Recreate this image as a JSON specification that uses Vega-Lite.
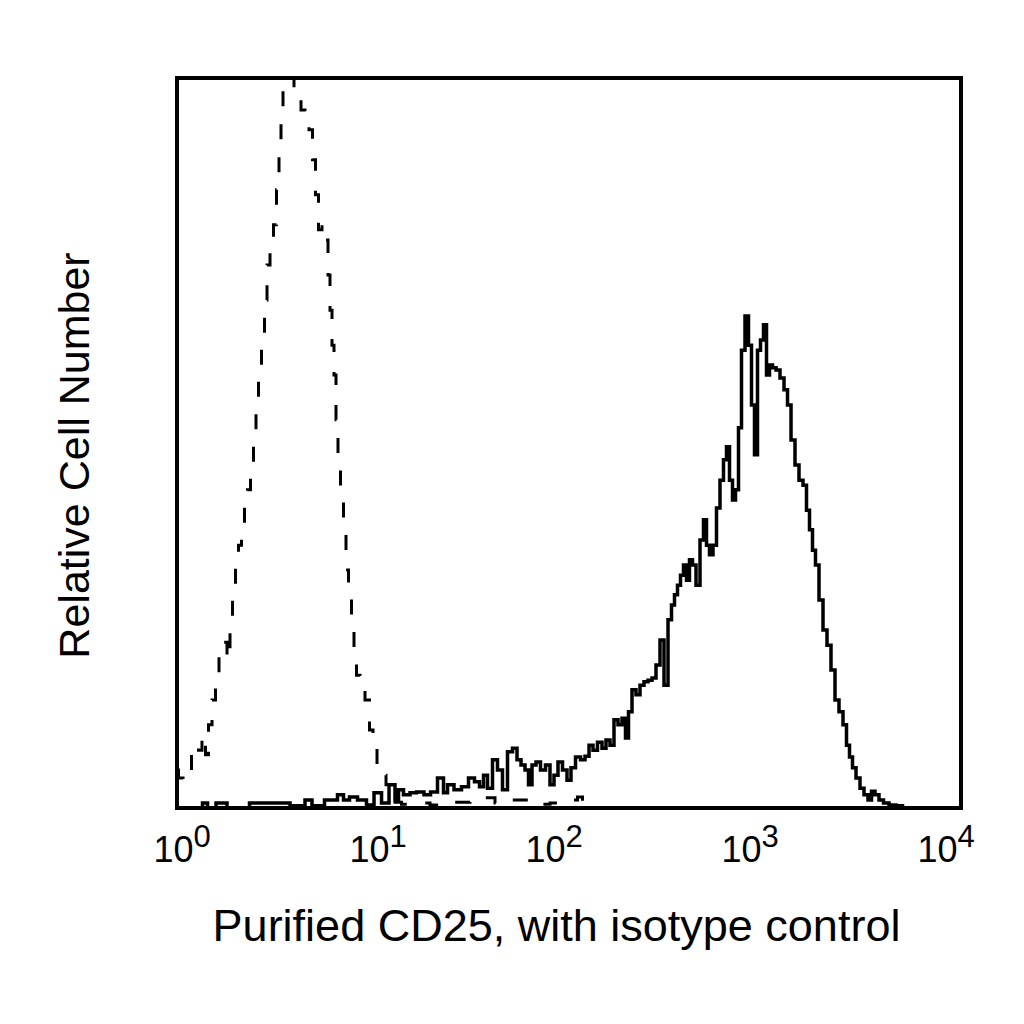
{
  "$schema": "https://vega.github.io/schema/vega-lite/v6.json",
  "width": 784,
  "height": 730,
  "autosize": "none",
  "padding": {"left": 177, "top": 78, "right": 63, "bottom": 216},
  "background": "white",
  "config": {
    "view": {"stroke": "black", "strokeWidth": 4},
    "font": "Liberation Sans"
  },
  "datasets": {
    "isotype": [
      {"intensity": 1, "count": 5.2}, {"intensity": 1.036, "count": 4.1}, {"intensity": 1.112, "count": 3.8},
      {"intensity": 1.165, "count": 4.1}, {"intensity": 1.207, "count": 7.3}, {"intensity": 1.265, "count": 8.6},
      {"intensity": 1.31, "count": 7.9}, {"intensity": 1.373, "count": 10.0}, {"intensity": 1.423, "count": 7.3},
      {"intensity": 1.474, "count": 11.4}, {"intensity": 1.544, "count": 14.8}, {"intensity": 1.6, "count": 18.6},
      {"intensity": 1.677, "count": 21.9}, {"intensity": 1.758, "count": 22.7}, {"intensity": 1.842, "count": 20.3},
      {"intensity": 1.886, "count": 25.8}, {"intensity": 1.954, "count": 30.5}, {"intensity": 2.024, "count": 34.0},
      {"intensity": 2.096, "count": 36.0}, {"intensity": 2.171, "count": 38.8}, {"intensity": 2.249, "count": 41.5},
      {"intensity": 2.33, "count": 43.6}, {"intensity": 2.414, "count": 46.3}, {"intensity": 2.5, "count": 50.4},
      {"intensity": 2.56, "count": 55.9}, {"intensity": 2.651, "count": 60.7}, {"intensity": 2.747, "count": 64.8},
      {"intensity": 2.845, "count": 69.6}, {"intensity": 2.913, "count": 74.4}, {"intensity": 3.053, "count": 77.8},
      {"intensity": 3.162, "count": 79.9}, {"intensity": 3.276, "count": 84.7}, {"intensity": 3.354, "count": 90.1},
      {"intensity": 3.433, "count": 94.2}, {"intensity": 3.515, "count": 98.4}, {"intensity": 3.684, "count": 102.5},
      {"intensity": 3.861, "count": 102.5}, {"intensity": 4.047, "count": 98.4}, {"intensity": 4.192, "count": 97.0},
      {"intensity": 4.394, "count": 95.6}, {"intensity": 4.606, "count": 94.9}, {"intensity": 4.827, "count": 92.9},
      {"intensity": 5.0, "count": 88.8}, {"intensity": 5.179, "count": 84.0}, {"intensity": 5.365, "count": 79.2},
      {"intensity": 5.623, "count": 79.9}, {"intensity": 5.825, "count": 77.8}, {"intensity": 5.964, "count": 73.0},
      {"intensity": 6.105, "count": 68.2}, {"intensity": 6.251, "count": 63.4}, {"intensity": 6.399, "count": 59.3},
      {"intensity": 6.551, "count": 53.2}, {"intensity": 6.707, "count": 46.3}, {"intensity": 6.948, "count": 43.6},
      {"intensity": 7.197, "count": 38.1}, {"intensity": 7.368, "count": 32.6}, {"intensity": 7.632, "count": 29.2},
      {"intensity": 7.906, "count": 25.1}, {"intensity": 8.094, "count": 20.3}, {"intensity": 8.384, "count": 18.2},
      {"intensity": 8.788, "count": 16.2}, {"intensity": 9.43, "count": 14.8}, {"intensity": 9.768, "count": 10.7},
      {"intensity": 10.24, "count": 8.6}, {"intensity": 10.73, "count": 5.9}, {"intensity": 11.38, "count": 4.5},
      {"intensity": 11.93, "count": 3.2}, {"intensity": 12.5, "count": 1.8}, {"intensity": 13.41, "count": 0.8},
      {"intensity": 14.57, "count": 0.5}, {"intensity": 17.37, "count": 0.7}, {"intensity": 21.97, "count": 0.4},
      {"intensity": 27.79, "count": 0.8}, {"intensity": 35.15, "count": 1.1}, {"intensity": 39.54, "count": 1.4},
      {"intensity": 44.45, "count": 0.7}, {"intensity": 56.23, "count": 1.1}, {"intensity": 71.15, "count": 0.5},
      {"intensity": 89.97, "count": 0.7}, {"intensity": 107.3, "count": 1.1}, {"intensity": 113.8, "count": 1.5},
      {"intensity": 120.7, "count": 0.3}, {"intensity": 143.9, "count": 0}
    ],
    "cd25": [
      {"intensity": 1, "count": 0}, {"intensity": 1.31, "count": 0}, {"intensity": 1.39, "count": 0.7},
      {"intensity": 1.474, "count": 0}, {"intensity": 1.697, "count": 0.7}, {"intensity": 1.908, "count": 0},
      {"intensity": 2.879, "count": 0.7}, {"intensity": 3.354, "count": 0.7}, {"intensity": 4.242, "count": 0.3},
      {"intensity": 4.771, "count": 1.1}, {"intensity": 5.0, "count": 0.3}, {"intensity": 6.399, "count": 1.1},
      {"intensity": 6.787, "count": 1.8}, {"intensity": 7.368, "count": 1.1}, {"intensity": 7.814, "count": 1.5},
      {"intensity": 8.892, "count": 1.1}, {"intensity": 9.654, "count": 0.4}, {"intensity": 10.61, "count": 2.1},
      {"intensity": 11.52, "count": 0.7}, {"intensity": 12.65, "count": 3.2}, {"intensity": 13.26, "count": 1.1},
      {"intensity": 13.73, "count": 2.5}, {"intensity": 14.91, "count": 1.8}, {"intensity": 16.0, "count": 2.1},
      {"intensity": 17.37, "count": 2.2}, {"intensity": 19.08, "count": 1.8}, {"intensity": 20.24, "count": 2.2},
      {"intensity": 22.49, "count": 4.1}, {"intensity": 23.3, "count": 2.1}, {"intensity": 24.71, "count": 3.2},
      {"intensity": 27.15, "count": 2.5}, {"intensity": 29.47, "count": 2.9}, {"intensity": 32.0, "count": 4.1},
      {"intensity": 33.93, "count": 3.6}, {"intensity": 35.99, "count": 2.9}, {"intensity": 37.28, "count": 4.5},
      {"intensity": 39.54, "count": 2.7}, {"intensity": 41.92, "count": 6.6}, {"intensity": 44.45, "count": 5.2},
      {"intensity": 47.15, "count": 2.5}, {"intensity": 50.0, "count": 7.7}, {"intensity": 53.03, "count": 8.2},
      {"intensity": 55.58, "count": 6.6}, {"intensity": 58.26, "count": 5.9}, {"intensity": 61.06, "count": 5.2},
      {"intensity": 63.25, "count": 3.2}, {"intensity": 66.29, "count": 5.9}, {"intensity": 69.48, "count": 6.3},
      {"intensity": 73.68, "count": 5.2}, {"intensity": 78.14, "count": 5.9}, {"intensity": 81.9, "count": 3.2},
      {"intensity": 85.84, "count": 4.5}, {"intensity": 89.97, "count": 6.3}, {"intensity": 95.41, "count": 5.2},
      {"intensity": 100, "count": 3.8}, {"intensity": 104.8, "count": 5.5}, {"intensity": 111.2, "count": 7.0},
      {"intensity": 117.9, "count": 6.6}, {"intensity": 123.6, "count": 7.1}, {"intensity": 129.5, "count": 8.6},
      {"intensity": 135.7, "count": 7.9}, {"intensity": 143.9, "count": 9.0}, {"intensity": 150.9, "count": 8.2},
      {"intensity": 158.1, "count": 9.3}, {"intensity": 165.7, "count": 8.6}, {"intensity": 173.7, "count": 12.1},
      {"intensity": 182.1, "count": 11.4}, {"intensity": 190.8, "count": 12.3}, {"intensity": 197.7, "count": 9.6},
      {"intensity": 204.8, "count": 13.2}, {"intensity": 214.6, "count": 16.2}, {"intensity": 224.9, "count": 15.5},
      {"intensity": 235.8, "count": 16.8}, {"intensity": 247.1, "count": 17.3}, {"intensity": 259.0, "count": 17.5},
      {"intensity": 271.5, "count": 17.8}, {"intensity": 284.5, "count": 19.6}, {"intensity": 298.2, "count": 23.0},
      {"intensity": 312.6, "count": 16.8}, {"intensity": 327.6, "count": 25.8}, {"intensity": 339.3, "count": 27.8},
      {"intensity": 351.5, "count": 29.2}, {"intensity": 364.1, "count": 30.5}, {"intensity": 377.2, "count": 31.9},
      {"intensity": 390.7, "count": 33.3}, {"intensity": 404.7, "count": 31.2}, {"intensity": 419.2, "count": 34.0},
      {"intensity": 434.3, "count": 33.3}, {"intensity": 455.2, "count": 30.5}, {"intensity": 477.1, "count": 36.7},
      {"intensity": 494.2, "count": 39.5}, {"intensity": 511.9, "count": 36.0}, {"intensity": 530.3, "count": 34.7},
      {"intensity": 555.8, "count": 36.0}, {"intensity": 575.7, "count": 41.1}, {"intensity": 603.4, "count": 44.9},
      {"intensity": 625.1, "count": 47.7}, {"intensity": 647.5, "count": 49.5}, {"intensity": 670.7, "count": 44.9},
      {"intensity": 694.8, "count": 42.2}, {"intensity": 719.7, "count": 43.6}, {"intensity": 745.5, "count": 52.1},
      {"intensity": 772.3, "count": 62.7}, {"intensity": 809.4, "count": 67.4}, {"intensity": 838.4, "count": 63.4},
      {"intensity": 868.5, "count": 55.2}, {"intensity": 899.7, "count": 48.4}, {"intensity": 932.0, "count": 62.7},
      {"intensity": 965.4, "count": 64.1}, {"intensity": 1000, "count": 66.2}, {"intensity": 1036, "count": 59.3},
      {"intensity": 1073, "count": 60.7}, {"intensity": 1112, "count": 60.3}, {"intensity": 1165, "count": 60.0},
      {"intensity": 1221, "count": 58.9}, {"intensity": 1280, "count": 57.3}, {"intensity": 1326, "count": 55.2},
      {"intensity": 1390, "count": 50.4}, {"intensity": 1456, "count": 47.0}, {"intensity": 1527, "count": 44.9},
      {"intensity": 1600, "count": 44.2}, {"intensity": 1657, "count": 40.8}, {"intensity": 1717, "count": 38.1},
      {"intensity": 1778, "count": 35.3}, {"intensity": 1842, "count": 33.3}, {"intensity": 1931, "count": 28.5},
      {"intensity": 2024, "count": 24.4}, {"intensity": 2121, "count": 22.3}, {"intensity": 2223, "count": 18.9},
      {"intensity": 2330, "count": 14.8}, {"intensity": 2442, "count": 13.2}, {"intensity": 2560, "count": 11.4},
      {"intensity": 2651, "count": 8.6}, {"intensity": 2747, "count": 7.0}, {"intensity": 2845, "count": 5.5},
      {"intensity": 2982, "count": 4.1}, {"intensity": 3126, "count": 2.7}, {"intensity": 3276, "count": 1.8},
      {"intensity": 3433, "count": 1.1}, {"intensity": 3557, "count": 2.3}, {"intensity": 3728, "count": 1.8},
      {"intensity": 3907, "count": 1.1}, {"intensity": 4144, "count": 0.7}, {"intensity": 4446, "count": 0.4},
      {"intensity": 4884, "count": 0.3}, {"intensity": 5179, "count": 0}, {"intensity": 5826, "count": 0}
    ]
  },
  "encoding": {
    "y": {
      "field": "count",
      "type": "quantitative",
      "scale": {"domain": [0, 100], "nice": false},
      "axis": {
        "title": "Relative Cell Number",
        "titleFontSize": 43,
        "titleFontWeight": "normal",
        "titleColor": "black",
        "titleBaseline": "alphabetic",
        "titleX": -89,
        "titleY": 377,
        "labels": false,
        "ticks": false,
        "domain": false,
        "grid": false
      }
    }
  },
  "layer": [
    {
      "data": {"name": "isotype"},
      "mark": {"type": "line", "interpolate": "step", "color": "black", "strokeWidth": 3, "strokeDash": [15, 20], "clip": true},
      "encoding": {
        "x": {
          "field": "intensity",
          "type": "quantitative",
          "scale": {"type": "log", "domain": [1, 10000], "nice": false},
          "axis": {
            "orient": "bottom",
            "title": "Purified CD25, with isotype control",
            "titleFontSize": 45,
            "titleFontWeight": "normal",
            "titleColor": "black",
            "titleBaseline": "alphabetic",
            "titleX": 379,
            "titleY": 132,
            "values": [1, 10, 100, 1000, 10000],
            "labelExpr": "'10'",
            "labelFontSize": 36,
            "labelColor": "black",
            "labelBaseline": "alphabetic",
            "labelPadding": 53,
            "labelAlign": "left",
            "labelOffset": {"condition": {"test": "datum.value <= 10", "value": -24}, "value": -44},
            "labelFlush": false,
            "labelOverlap": false,
            "ticks": false,
            "domain": false,
            "grid": false
          }
        }
      }
    },
    {
      "data": {"name": "cd25"},
      "mark": {"type": "line", "interpolate": "step", "color": "black", "strokeWidth": 3.5, "clip": true},
      "encoding": {
        "x": {
          "field": "intensity",
          "type": "quantitative",
          "scale": {"type": "log", "domain": [1, 10000], "nice": false},
          "axis": {
            "orient": "top",
            "offset": -768,
            "title": null,
            "values": [1, 10, 100, 1000, 10000],
            "labelExpr": "datum.value == 1 ? '0' : datum.value == 10 ? '1' : datum.value == 100 ? '2' : datum.value == 1000 ? '3' : '4'",
            "labelFontSize": 31,
            "labelColor": "black",
            "labelBaseline": "alphabetic",
            "labelPadding": 0,
            "labelAlign": "left",
            "labelOffset": {"condition": {"test": "datum.value <= 10", "value": 16}, "value": -4},
            "labelFlush": false,
            "labelOverlap": false,
            "ticks": false,
            "domain": false,
            "grid": false
          }
        }
      }
    }
  ],
  "resolve": {"axis": {"x": "independent"}}
}
